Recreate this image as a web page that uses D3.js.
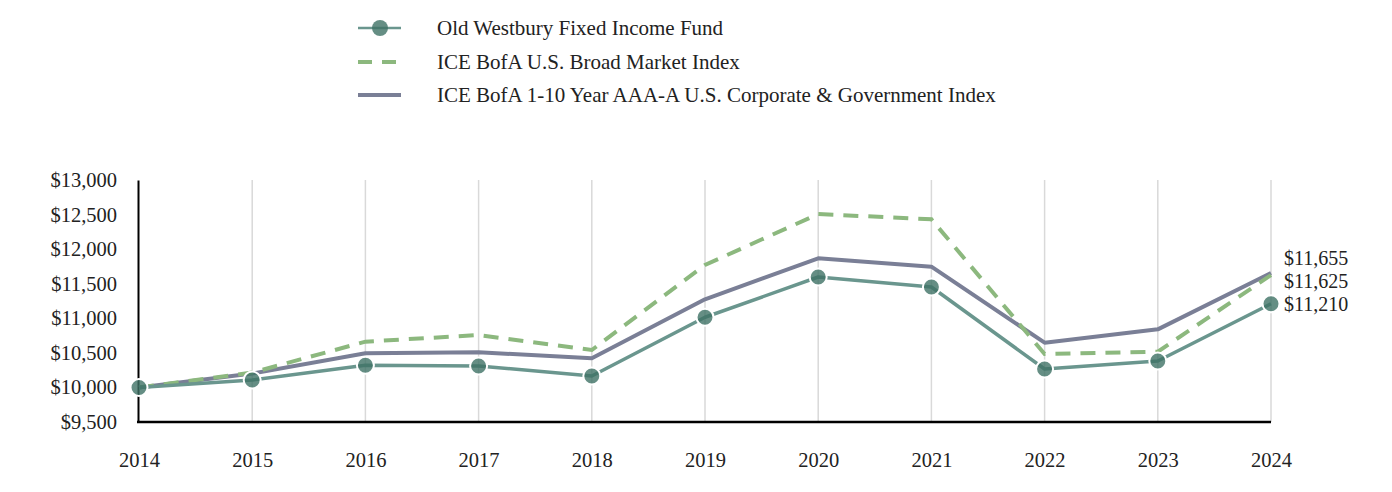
<!DOCTYPE html>
<html>
<head>
<meta charset="utf-8">
<script src="https://cdn.jsdelivr.net/npm/d3@7"></script>
<style>
  html, body { margin: 0; padding: 0; background: #fff; }
  svg { display: block; font-family: "Liberation Serif", "Times New Roman", serif; }
</style>
</head>
<body>
<svg id="chart" width="1392" height="492"></svg>
<script>
const years = [2014, 2015, 2016, 2017, 2018, 2019, 2020, 2021, 2022, 2023, 2024];
const fundValues = [10000, 10107, 10320, 10310, 10165, 11015, 11597, 11452, 10266, 10382, 11210];
const broadValues = [10000, 10215, 10662, 10758, 10541, 11771, 12508, 12432, 10483, 10517, 11625];
const corpValues = [10000, 10200, 10493, 10508, 10421, 11275, 11868, 11746, 10647, 10840, 11655];
const yTicks = [9500, 10000, 10500, 11000, 11500, 12000, 12500, 13000];
const seriesNames = [
  "Old Westbury Fixed Income Fund",
  "ICE BofA U.S. Broad Market Index",
  "ICE BofA 1-10 Year AAA-A U.S. Corporate & Government Index"
];

const colors = { fund: "#6a968e", fundMarker: "#3f7265", broad: "#8cb87e", corp: "#7a7f96" };

const svg = d3.select("#chart");
const margin = { left: 139, right: 1271, top: 180, bottom: 422 };

const x = d3.scalePoint().domain(years).range([margin.left, margin.right]);
const y = d3.scaleLinear().domain([9500, 13000]).range([margin.bottom, margin.top]);
const fmt = d => "$" + d3.format(",")(d);

// gridlines
svg.append("g").selectAll("line").data(years.slice(1)).join("line")
  .attr("x1", d => x(d)).attr("x2", d => x(d))
  .attr("y1", margin.top).attr("y2", margin.bottom)
  .attr("stroke", "#d9d9d9").attr("stroke-width", 1.5);

// y axis
const yAxis = d3.axisLeft(y).tickValues(yTicks).tickFormat(fmt).tickSize(0).tickPadding(21);
const gy = svg.append("g").attr("transform", `translate(${margin.left - 1},0)`).call(yAxis);
gy.select(".domain").attr("stroke", "#000").attr("stroke-width", 2);
gy.selectAll("text").attr("font-size", 20.5).attr("fill", "#222").attr("font-family", "Liberation Serif, serif");

// x axis
const xAxis = d3.axisBottom(x).tickSize(0).tickPadding(30).tickFormat(d3.format("d"));
const gx = svg.append("g").attr("transform", `translate(0,${margin.bottom})`).call(xAxis);
gx.select(".domain").attr("stroke", "#000").attr("stroke-width", 2.5)
  .attr("d", `M${margin.left - 2},0H${margin.right}`);
gx.selectAll("text").attr("font-size", 20.5).attr("fill", "#222").attr("font-family", "Liberation Serif, serif");

const line = d3.line().x((d, i) => x(years[i])).y(d => y(d));

svg.append("path").datum(corpValues).attr("d", line)
  .attr("fill", "none").attr("stroke", colors.corp).attr("stroke-width", 4).attr("stroke-linejoin", "round");
svg.append("path").datum(broadValues).attr("d", line)
  .attr("fill", "none").attr("stroke", colors.broad).attr("stroke-width", 4)
  .attr("stroke-dasharray", "15,10");
svg.append("path").datum(fundValues).attr("d", line)
  .attr("fill", "none").attr("stroke", colors.fund).attr("stroke-width", 3.5).attr("stroke-linejoin", "round");

svg.append("g").selectAll("circle").data(fundValues).join("circle")
  .attr("cx", (d, i) => x(years[i])).attr("cy", d => y(d)).attr("r", 8.5)
  .attr("fill", colors.fundMarker).attr("fill-opacity", 0.8)
  .attr("stroke", "#fff").attr("stroke-width", 2);

// end labels
const last = years.length - 1;
const endLabels = [
  { v: corpValues[last], dy: -46 },
  { v: broadValues[last], dy: -23 },
  { v: fundValues[last], dy: 0 }
];
const baseY = y(fundValues[last]);
svg.append("g").selectAll("text").data(endLabels).join("text")
  .attr("x", margin.right + 13).attr("y", d => baseY + d.dy)
  .attr("dy", "0.35em").attr("font-size", 20).attr("fill", "#222")
  .text(d => fmt(d.v));

// legend
const lg = svg.append("g");
const rows = [28, 62, 95];
lg.append("line").attr("x1", 358).attr("x2", 401).attr("y1", rows[0]).attr("y2", rows[0])
  .attr("stroke", colors.fund).attr("stroke-width", 2.5);
lg.append("circle").attr("cx", 380).attr("cy", rows[0]).attr("r", 8)
  .attr("fill", colors.fundMarker).attr("fill-opacity", 0.8);
lg.append("line").attr("x1", 358).attr("x2", 401).attr("y1", rows[1]).attr("y2", rows[1])
  .attr("stroke", colors.broad).attr("stroke-width", 4).attr("stroke-dasharray", "14,10");
lg.append("line").attr("x1", 358).attr("x2", 401).attr("y1", rows[2]).attr("y2", rows[2])
  .attr("stroke", colors.corp).attr("stroke-width", 4);
lg.selectAll("text").data(seriesNames).join("text")
  .attr("x", 437).attr("y", (d, i) => rows[i]).attr("dy", "0.35em")
  .attr("font-size", 21).attr("fill", "#222").text(d => d);
</script>
</body>
</html>
